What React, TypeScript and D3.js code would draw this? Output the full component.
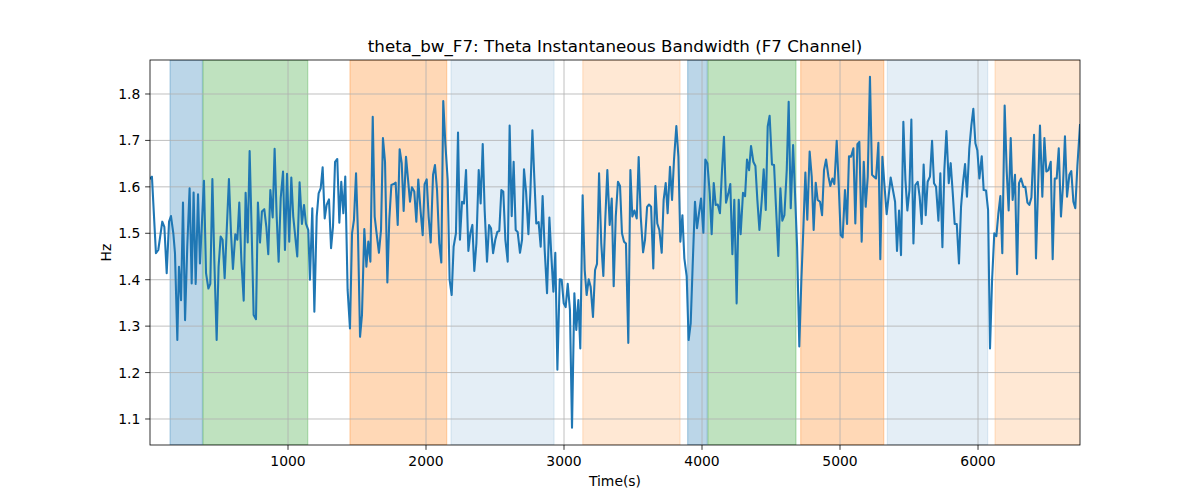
import React, { useEffect, useRef } from "react";
import * as d3 from "d3";

// sample times (s) and theta bandwidth values (Hz)
const times = [
  0, 14, 43, 60, 89, 104, 121, 138, 152, 169, 181, 198, 210, 225, 239, 254, 270, 287, 302, 316,
  331, 348, 362, 391, 406, 423, 437, 452, 466, 483, 497, 512, 526, 541, 572, 587, 601, 618, 633, 647,
  662, 679, 693, 708, 722, 737, 751, 768, 782, 797, 811, 828, 843, 857, 872, 889, 903, 918, 932, 947,
  964, 978, 993, 1009, 1024, 1038, 1067, 1084, 1101, 1116, 1130, 1147, 1159,
  1176, 1191, 1208, 1222, 1237, 1251, 1266, 1280, 1297, 1312, 1326, 1341, 1357, 1372, 1386, 1401, 1415, 1432, 1449, 1464,
  1478, 1493, 1507, 1522, 1536, 1553, 1568, 1582, 1597, 1614, 1628, 1642, 1659, 1674, 1688, 1703, 1720, 1734, 1749, 1766,
  1780, 1795, 1809, 1824, 1838, 1855, 1870, 1884, 1898, 1915, 1930, 1944, 1961, 1976, 1990, 2005, 2019, 2034, 2051, 2065,
  2080, 2096, 2111, 2125, 2140, 2157, 2171, 2186, 2200, 2217,
  2232, 2246, 2261, 2275, 2290, 2307, 2321, 2336, 2350, 2365, 2382, 2396, 2411, 2425, 2442, 2457, 2471, 2486, 2502, 2517,
  2531, 2546, 2560, 2575, 2592, 2606, 2621, 2635, 2650, 2664, 2681, 2696, 2710, 2725, 2742, 2756, 2771, 2785, 2799, 2816,
  2831, 2845, 2860, 2877, 2894, 2908, 2923, 2937, 2952, 2969, 2983, 2998, 3012, 3027, 3043, 3058, 3075, 3089, 3104, 3118,
  3135, 3150, 3164, 3179, 3193, 3210, 3225, 3239, 3254, 3270, 3285, 3299, 3314,
  3331, 3346, 3360, 3375, 3391, 3406, 3420, 3435, 3449, 3466, 3481, 3495, 3510, 3527, 3541, 3556, 3573, 3587, 3602, 3616,
  3631, 3647, 3662, 3676, 3691, 3708, 3722, 3737, 3751, 3768, 3783, 3797, 3814, 3829, 3843, 3858, 3872, 3889, 3903, 3918,
  3932, 3949, 3964, 3978, 3993, 4010, 4024, 4039, 4056, 4070, 4085, 4099, 4114, 4130, 4145, 4159, 4174, 4191, 4205, 4220,
  4234, 4251, 4266, 4280, 4297, 4312, 4326, 4341, 4355,
  4372, 4387, 4401, 4416, 4433, 4447, 4462, 4476, 4490, 4507, 4522, 4536, 4553, 4568, 4582, 4597, 4614, 4628, 4643, 4660,
  4674, 4689, 4705, 4720, 4734, 4749, 4763, 4780, 4795, 4809, 4824, 4838, 4855, 4870, 4884, 4899, 4916, 4930, 4945, 4959,
  4976, 4990, 5005, 5019, 5036, 5051, 5065, 5080, 5097, 5111, 5126, 5140, 5157, 5172, 5186, 5201, 5217, 5232, 5246, 5261,
  5278, 5292, 5307, 5321, 5338, 5367, 5399, 5413, 5428, 5442, 5459,
  5474, 5488, 5503, 5517, 5532, 5546, 5563, 5577, 5592, 5606, 5621, 5635, 5652, 5667, 5681, 5696, 5713, 5727, 5742, 5756,
  5771, 5788, 5802, 5817, 5831, 5846, 5862, 5877, 5891, 5906, 5920, 5937, 5952, 5966, 5981, 5995, 6010, 6027, 6041, 6058,
  6073, 6087, 6102, 6118, 6133, 6147, 6162, 6176, 6193, 6208, 6222, 6237, 6251, 6268, 6283, 6297, 6312, 6329, 6343, 6358,
  6372, 6387, 6406, 6420, 6435, 6449, 6466, 6481, 6495, 6510, 6527, 6541, 6556, 6570, 6585, 6601, 6616, 6630, 6645, 6662,
  6676, 6691, 6705, 6720, 6739,
];

const bandwidth = [
  1.618, 1.622, 1.457, 1.464, 1.525, 1.514, 1.414, 1.525, 1.537, 1.5, 1.457, 1.27, 1.428, 1.356, 1.566, 1.313, 1.471, 1.597, 1.392, 1.588,
  1.391, 1.584, 1.435, 1.613, 1.414, 1.381, 1.391, 1.617, 1.442, 1.27, 1.428, 1.493, 1.486, 1.403, 1.617, 1.5, 1.423, 1.498, 1.486, 1.566,
  1.442, 1.355, 1.587, 1.48, 1.677, 1.5, 1.324, 1.315, 1.566, 1.48, 1.547, 1.552, 1.514, 1.455, 1.593, 1.534, 1.682, 1.536, 1.439, 1.575,
  1.633, 1.464, 1.628, 1.482, 1.62, 1.536, 1.45, 1.61, 1.52, 1.561, 1.521, 1.507, 1.4,
  1.554, 1.331, 1.536, 1.586, 1.597, 1.642, 1.532, 1.561, 1.573, 1.468, 1.514, 1.654, 1.66, 1.523, 1.611, 1.543, 1.622, 1.378, 1.295, 1.5,
  1.529, 1.629, 1.5, 1.277, 1.324, 1.509, 1.428, 1.482, 1.439, 1.751, 1.536, 1.5, 1.458, 1.507, 1.705, 1.654, 1.394, 1.529, 1.604, 1.606,
  1.609, 1.518, 1.681, 1.651, 1.548, 1.665, 1.615, 1.568, 1.599, 1.59, 1.525, 1.616, 1.547, 1.496, 1.606, 1.616, 1.536, 1.48, 1.626, 1.647,
  1.593, 1.478, 1.437, 1.785, 1.694, 1.615, 1.4, 1.367, 1.471, 1.5,
  1.717, 1.486, 1.568, 1.564, 1.636, 1.462, 1.5, 1.518, 1.419, 1.478, 1.636, 1.564, 1.692, 1.55, 1.439, 1.518, 1.511, 1.457, 1.486, 1.503,
  1.505, 1.593, 1.59, 1.486, 1.439, 1.732, 1.537, 1.654, 1.507, 1.503, 1.458, 1.486, 1.638, 1.59, 1.498, 1.586, 1.722, 1.618, 1.521, 1.524,
  1.471, 1.58, 1.464, 1.371, 1.534, 1.453, 1.374, 1.458, 1.206, 1.401, 1.4, 1.349, 1.341, 1.391, 1.335, 1.081, 1.371, 1.292, 1.356, 1.252,
  1.582, 1.421, 1.367, 1.401, 1.385, 1.32, 1.421, 1.434, 1.629, 1.478, 1.408, 1.529, 1.636,
  1.518, 1.575, 1.386, 1.536, 1.611, 1.602, 1.5, 1.482, 1.478, 1.264, 1.636, 1.536, 1.549, 1.532, 1.664, 1.536, 1.459, 1.486, 1.557, 1.562,
  1.557, 1.424, 1.602, 1.521, 1.507, 1.458, 1.572, 1.608, 1.543, 1.643, 1.572, 1.658, 1.731, 1.665, 1.482, 1.539, 1.446, 1.407, 1.27, 1.306,
  1.428, 1.568, 1.511, 1.543, 1.575, 1.501, 1.659, 1.651, 1.586, 1.498, 1.608, 1.561, 1.562, 1.543, 1.636, 1.708, 1.566, 1.586, 1.606, 1.455,
  1.572, 1.349, 1.572, 1.498, 1.587, 1.58, 1.659, 1.636, 1.688,
  1.654, 1.645, 1.572, 1.507, 1.572, 1.638, 1.55, 1.73, 1.753, 1.648, 1.647, 1.557, 1.451, 1.597, 1.527, 1.539, 1.636, 1.783, 1.554, 1.69,
  1.586, 1.471, 1.256, 1.4, 1.507, 1.631, 1.529, 1.676, 1.622, 1.507, 1.609, 1.572, 1.568, 1.539, 1.636, 1.659, 1.622, 1.602, 1.618, 1.606,
  1.699, 1.608, 1.496, 1.491, 1.593, 1.52, 1.666, 1.665, 1.683, 1.521, 1.692, 1.697, 1.482, 1.654, 1.557, 1.622, 1.837, 1.626, 1.622, 1.618,
  1.695, 1.444, 1.665, 1.608, 1.541, 1.62, 1.568, 1.462, 1.549, 1.453, 1.74,
  1.615, 1.549, 1.593, 1.745, 1.478, 1.604, 1.611, 1.579, 1.52, 1.648, 1.539, 1.611, 1.622, 1.699, 1.608, 1.6, 1.527, 1.629, 1.47, 1.636,
  1.72, 1.608, 1.651, 1.586, 1.52, 1.52, 1.435, 1.557, 1.608, 1.649, 1.579, 1.683, 1.733, 1.768, 1.694, 1.679, 1.618, 1.666, 1.593, 1.592,
  1.55, 1.252, 1.4, 1.5, 1.494, 1.541, 1.58, 1.457, 1.775, 1.633, 1.549, 1.705, 1.572, 1.626, 1.412, 1.608, 1.618, 1.6, 1.6, 1.566,
  1.561, 1.577, 1.712, 1.446, 1.597, 1.732, 1.579, 1.705, 1.633, 1.636, 1.654, 1.444, 1.618, 1.618, 1.683, 1.536, 1.604, 1.709, 1.579, 1.626,
  1.634, 1.568, 1.554, 1.645, 1.733,
];

// shaded stage intervals
const spanStarts = [145, 384, 1449, 2181, 3136, 3896, 4043, 4715, 5343, 6123];
const spanEnds = [380, 1143, 2150, 2928, 3841, 4038, 4681, 5317, 6070, 6760];
const spanColors = ["#1f77b4", "#2ca02c", "#ff7f0e", "#1f77b4", "#ff7f0e", "#1f77b4", "#2ca02c", "#ff7f0e", "#1f77b4", "#ff7f0e"];
const spanAlphas = [0.3, 0.3, 0.3, 0.12, 0.18, 0.3, 0.3, 0.3, 0.12, 0.18];

const xTicks = [1000, 2000, 3000, 4000, 5000, 6000];
const yTicks = [1.1, 1.2, 1.3, 1.4, 1.5, 1.6, 1.7, 1.8];

export default function App() {
  const ref = useRef<SVGSVGElement | null>(null);

  useEffect(() => {
    if (!ref.current) return;
    const svg = d3.select(ref.current);
    svg.selectAll("*").remove();

    const left = 150, right = 1080, top = 60, bottom = 445;
    const x = d3.scaleLinear([0, 6739], [left, right]);
    const y = d3.scaleLinear([1.044, 1.8732], [bottom, top]);
    const tickLen = 4.86;

    svg.append("rect").attr("width", 1200).attr("height", 500).attr("fill", "white");

    svg.append("clipPath").attr("id", "plot-clip")
      .append("rect")
      .attr("x", left).attr("y", top)
      .attr("width", right - left).attr("height", bottom - top);

    const plot = svg.append("g").attr("clip-path", "url(#plot-clip)");

    // spans
    plot.selectAll("rect.span")
      .data(spanStarts)
      .enter()
      .append("rect")
      .attr("class", "span")
      .attr("x", (d) => x(d))
      .attr("y", top)
      .attr("width", (d, i) => x(spanEnds[i]) - x(d))
      .attr("height", bottom - top)
      .attr("fill", (d, i) => spanColors[i])
      .attr("fill-opacity", (d, i) => spanAlphas[i])
      .attr("stroke", (d, i) => spanColors[i])
      .attr("stroke-opacity", (d, i) => spanAlphas[i])
      .attr("stroke-width", 1.2);

    // grid
    plot.selectAll("line.gx")
      .data(xTicks)
      .enter()
      .append("line")
      .attr("x1", (d) => x(d)).attr("x2", (d) => x(d))
      .attr("y1", top).attr("y2", bottom)
      .attr("stroke", "#b0b0b0").attr("stroke-width", 0.8);
    plot.selectAll("line.gy")
      .data(yTicks)
      .enter()
      .append("line")
      .attr("y1", (d) => y(d)).attr("y2", (d) => y(d))
      .attr("x1", left).attr("x2", right)
      .attr("stroke", "#b0b0b0").attr("stroke-width", 0.8);

    // series
    const line = d3.line<number>()
      .x((d, i) => x(times[i]))
      .y((d) => y(d));
    plot.append("path")
      .datum(bandwidth)
      .attr("d", line)
      .attr("fill", "none")
      .attr("stroke", "#1f77b4")
      .attr("stroke-width", 2.08)
      .attr("stroke-linejoin", "round")
      .attr("stroke-linecap", "square");

    // frame
    svg.append("rect")
      .attr("x", left).attr("y", top)
      .attr("width", right - left).attr("height", bottom - top)
      .attr("fill", "none").attr("stroke", "black").attr("stroke-width", 0.8);

    // x ticks
    const gx = svg.append("g");
    xTicks.forEach((t) => {
      gx.append("line")
        .attr("x1", x(t)).attr("x2", x(t))
        .attr("y1", bottom).attr("y2", bottom + tickLen)
        .attr("stroke", "black").attr("stroke-width", 0.8);
      gx.append("text")
        .attr("x", x(t)).attr("y", bottom + 20.5)
        .attr("text-anchor", "middle")
        .attr("font-size", 13.9)
        .text(String(t));
    });

    // y ticks
    const gy = svg.append("g");
    yTicks.forEach((t) => {
      gy.append("line")
        .attr("x1", left - tickLen).attr("x2", left)
        .attr("y1", y(t)).attr("y2", y(t))
        .attr("stroke", "black").attr("stroke-width", 0.8);
      gy.append("text")
        .attr("x", left - 2 * tickLen)
        .attr("y", y(t))
        .attr("dy", "0.36em")
        .attr("text-anchor", "end")
        .attr("font-size", 13.9)
        .text(t.toFixed(1));
    });

    svg.append("text")
      .attr("x", (left + right) / 2).attr("y", 486)
      .attr("text-anchor", "middle").attr("font-size", 13.9)
      .text("Time(s)");

    svg.append("text")
      .attr("transform", `translate(111,${(top + bottom) / 2}) rotate(-90)`)
      .attr("text-anchor", "middle").attr("font-size", 13.9)
      .text("Hz");

    svg.append("text")
      .attr("x", (left + right) / 2).attr("y", 52)
      .attr("text-anchor", "middle").attr("font-size", 16.7)
      .text("theta_bw_F7: Theta Instantaneous Bandwidth (F7 Channel)");
  }, []);

  return (
    <svg
      ref={ref}
      width={1200}
      height={500}
      style={{ position: "absolute", left: 0, top: 0, fontFamily: "DejaVu Sans" }}
    />
  );
}
